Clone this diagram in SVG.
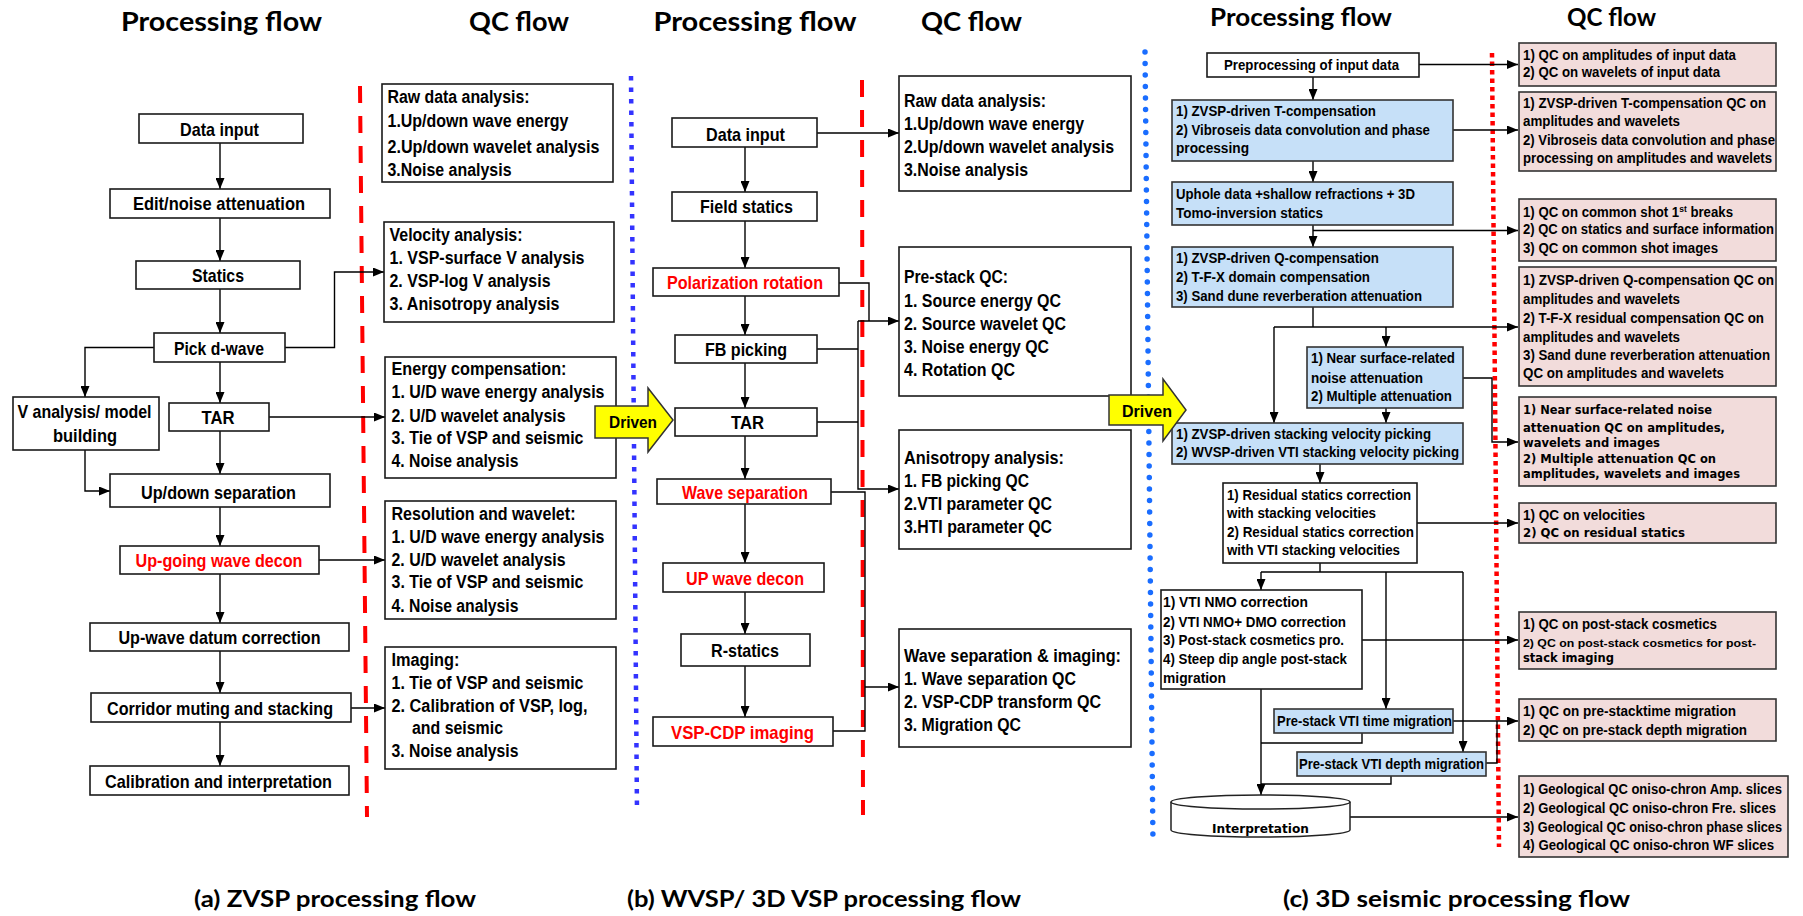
<svg xmlns="http://www.w3.org/2000/svg" width="1803" height="916" viewBox="0 0 1803 916">
<style>
text{font-family:"Liberation Sans",Arial,sans-serif;font-weight:bold;fill:#000}
.ttl{font-family:Lato,"Open Sans",sans-serif;font-size:27px;font-weight:bold;text-anchor:middle}
.ttc{font-family:Lato,"Open Sans",sans-serif;font-size:24px;font-weight:bold;text-anchor:middle}
.cap{font-family:Lato,"Open Sans",sans-serif;font-size:23px;font-weight:bold;text-anchor:middle}
.p{font-size:19px;text-anchor:middle}
.q{font-size:18px}
.c{font-size:14px}
.v{font-family:"DejaVu Sans",Verdana,sans-serif;font-size:13px}
.red{fill:#ff0000}
.bx{fill:#fff;stroke:#1a1a1a;stroke-width:1.6}
.bl{fill:#c6e0f8;stroke:#333;stroke-width:1.6}
.pk{fill:#f2dcdb;stroke:#333;stroke-width:1.6}
.ln{fill:none;stroke:#000;stroke-width:1.4}
.ar{marker-end:url(#ah)}
.rdash{stroke:#ff0000;stroke-width:4;stroke-dasharray:17 13;fill:none}
.bsq{stroke:#3333ff;stroke-width:4.5;stroke-dasharray:4.5 7;fill:none}
.bdot{stroke:#1a6dff;stroke-width:5.5;stroke-dasharray:0 11.5;stroke-linecap:round;fill:none}
.rdot{stroke:#ff0000;stroke-width:4.5;stroke-dasharray:4.5 4;fill:none}
.drv{fill:#ffff00;stroke:#333;stroke-width:1.5}
</style>
<defs>
<marker id="ah" markerUnits="userSpaceOnUse" markerWidth="11" markerHeight="9" refX="11" refY="4.5" orient="auto">
<path d="M0,0 L11,4.5 L0,9 z" fill="#000"/>
</marker>
</defs>
<rect width="1803" height="916" fill="#fff"/>

<!-- separators -->
<g id="separators">
<path class="rdash" d="M360,86 L367,817"/>
<path class="bsq" d="M631,76 L637,812"/>
<path class="rdash" d="M862,80 L863,815"/>
<path class="bdot" d="M1145,52 L1153,845"/>
<path class="rdot" d="M1492,53 L1499,847"/>
</g>

<!-- titles -->
<g id="titles">
<text class="ttl" x="221.5" y="31" textLength="201" lengthAdjust="spacingAndGlyphs">Processing flow</text>
<text class="ttl" x="519" y="31" textLength="100" lengthAdjust="spacingAndGlyphs">QC flow</text>
<text class="ttl" x="755" y="31" textLength="203" lengthAdjust="spacingAndGlyphs">Processing flow</text>
<text class="ttl" x="971.5" y="31" textLength="101" lengthAdjust="spacingAndGlyphs">QC flow</text>
<text class="ttc" x="1301" y="26" textLength="182" lengthAdjust="spacingAndGlyphs">Processing flow</text>
<text class="ttc" x="1611.5" y="26" textLength="89" lengthAdjust="spacingAndGlyphs">QC flow</text>
<text class="cap" x="335" y="907" textLength="282" lengthAdjust="spacingAndGlyphs">(a) ZVSP processing flow</text>
<text class="cap" x="824" y="907" textLength="394" lengthAdjust="spacingAndGlyphs">(b) WVSP/ 3D VSP processing flow</text>
<text class="cap" x="1456.5" y="907" textLength="347" lengthAdjust="spacingAndGlyphs">(c) 3D seismic processing flow</text>
</g>

<!-- connectors -->
<g id="connectors">
<!-- panel a -->
<path class="ln ar" d="M220,143 V189"/>
<path class="ln ar" d="M220,218 V261"/>
<path class="ln ar" d="M220,289 V333"/>
<path class="ln ar" d="M220,362 V403"/>
<path class="ln ar" d="M154,347.5 H85 V397"/>
<path class="ln ar" d="M220,431 V474"/>
<path class="ln ar" d="M85,450 V491 H110"/>
<path class="ln ar" d="M220,507 V546"/>
<path class="ln ar" d="M220,574 V623"/>
<path class="ln ar" d="M220,651 V693"/>
<path class="ln ar" d="M220,722 V766"/>
<path class="ln ar" d="M285,347.5 H334.5 V272 H384"/>
<path class="ln ar" d="M269,417 H385"/>
<path class="ln ar" d="M319,560 H385"/>
<path class="ln ar" d="M351,708 H385"/>
<!-- panel b -->
<path class="ln ar" d="M745,147 V192"/>
<path class="ln ar" d="M745,221 V268"/>
<path class="ln ar" d="M745,296 V335"/>
<path class="ln ar" d="M745,363 V408"/>
<path class="ln ar" d="M745,436 V479"/>
<path class="ln ar" d="M745,504 V563"/>
<path class="ln ar" d="M745,592 V634"/>
<path class="ln ar" d="M745,666 V717"/>
<path class="ln ar" d="M817,133 H899"/>
<path class="ln" d="M839,283 H869 V321"/>
<path class="ln ar" d="M858,321 H899"/>
<path class="ln ar" d="M858,321 V489 H899"/>
<path class="ln" d="M817,349 H858 M817,422 H858"/>
<path class="ln" d="M831,492 H865 V731 H833"/>
<path class="ln ar" d="M865,687 H899"/>
<!-- panel c -->
<path class="ln ar" d="M1313,77 V100"/>
<path class="ln ar" d="M1419,64.5 H1518"/>
<path class="ln ar" d="M1313,161 V182"/>
<path class="ln ar" d="M1453,130 H1518"/>
<path class="ln ar" d="M1313,225 V247"/>
<path class="ln ar" d="M1313,230.5 H1518"/>
<path class="ln" d="M1313,307 V327"/>
<path class="ln ar" d="M1274,327 H1518"/>
<path class="ln ar" d="M1274,327 V423"/>
<path class="ln ar" d="M1386,327 V347"/>
<path class="ln ar" d="M1386,408 V423"/>
<path class="ln ar" d="M1463,378 H1492 V442 H1518"/>
<path class="ln ar" d="M1320,464 V483"/>
<path class="ln ar" d="M1417,523 H1518"/>
<path class="ln" d="M1320,563 V572 M1261,572 H1463"/>
<path class="ln ar" d="M1261,572 V590"/>
<path class="ln ar" d="M1386,572 V709"/>
<path class="ln ar" d="M1463,572 V752"/>
<path class="ln ar" d="M1362,640 H1518"/>
<path class="ln ar" d="M1261,689 V795"/>
<path class="ln" d="M1362,733 V743 H1261"/>
<path class="ln" d="M1391,776 V784 H1261"/>
<path class="ln ar" d="M1453,721 H1518"/>
<path class="ln" d="M1486,763 H1497 V721"/>
<path class="ln ar" d="M1350,817 H1518"/>
</g>

<!-- Panel a processing -->
<g id="a-data-input"><rect class="bx" x="139" y="114" width="164" height="29"/><text class="p" x="219.5" y="136" textLength="79" lengthAdjust="spacingAndGlyphs">Data input</text></g>
<g id="a-edit"><rect class="bx" x="110" y="189" width="220" height="29"/><text class="p" x="219" y="210" textLength="172" lengthAdjust="spacingAndGlyphs">Edit/noise attenuation</text></g>
<g id="a-statics"><rect class="bx" x="136" y="261" width="164" height="28"/><text class="p" x="218" y="282" textLength="52" lengthAdjust="spacingAndGlyphs">Statics</text></g>
<g id="a-pick"><rect class="bx" x="154" y="333" width="131" height="29"/><text class="p" x="219" y="355" textLength="90" lengthAdjust="spacingAndGlyphs">Pick d-wave</text></g>
<g id="a-vanalysis"><rect class="bx" x="13" y="397" width="146" height="53"/><text class="p" x="84.5" y="418" textLength="134" lengthAdjust="spacingAndGlyphs">V analysis/ model</text><text class="p" x="85" y="442" textLength="64" lengthAdjust="spacingAndGlyphs">building</text></g>
<g id="a-tar"><rect class="bx" x="169" y="403" width="100" height="28"/><text class="p" x="218" y="424" textLength="33" lengthAdjust="spacingAndGlyphs">TAR</text></g>
<g id="a-updown"><rect class="bx" x="110" y="474" width="220" height="33"/><text class="p" x="218.5" y="499" textLength="155" lengthAdjust="spacingAndGlyphs">Up/down separation</text></g>
<g id="a-upgoing"><rect class="bx" x="120" y="546" width="199" height="28"/><text class="p red" x="219" y="567" textLength="167" lengthAdjust="spacingAndGlyphs">Up-going wave decon</text></g>
<g id="a-datum"><rect class="bx" x="90" y="623" width="259" height="28"/><text class="p" x="219.5" y="644" textLength="202" lengthAdjust="spacingAndGlyphs">Up-wave datum correction</text></g>
<g id="a-corridor"><rect class="bx" x="91" y="693" width="260" height="29"/><text class="p" x="220" y="715" textLength="226" lengthAdjust="spacingAndGlyphs">Corridor muting and stacking</text></g>
<g id="a-calib"><rect class="bx" x="90" y="766" width="259" height="29"/><text class="p" x="218.5" y="788" textLength="227" lengthAdjust="spacingAndGlyphs">Calibration and interpretation</text></g>

<!-- Panel a QC -->
<g id="a-qc-raw"><rect class="bx" x="382" y="84" width="231" height="98"/>
<text class="q" x="387.5" y="103" textLength="142" lengthAdjust="spacingAndGlyphs">Raw data analysis:</text>
<text class="q" x="387.5" y="127" textLength="181" lengthAdjust="spacingAndGlyphs">1.Up/down wave energy</text>
<text class="q" x="387.5" y="153" textLength="212" lengthAdjust="spacingAndGlyphs">2.Up/down wavelet analysis</text>
<text class="q" x="387.5" y="176" textLength="124" lengthAdjust="spacingAndGlyphs">3.Noise analysis</text></g>
<g id="a-qc-vel"><rect class="bx" x="384" y="222" width="230" height="100"/>
<text class="q" x="389.5" y="241" textLength="133" lengthAdjust="spacingAndGlyphs">Velocity analysis:</text>
<text class="q" x="389.5" y="264" textLength="195" lengthAdjust="spacingAndGlyphs">1. VSP-surface V analysis</text>
<text class="q" x="389.5" y="287" textLength="161" lengthAdjust="spacingAndGlyphs">2. VSP-log V analysis</text>
<text class="q" x="389.5" y="310" textLength="170" lengthAdjust="spacingAndGlyphs">3. Anisotropy analysis</text></g>
<g id="a-qc-energy"><rect class="bx" x="385" y="357" width="231" height="121"/>
<text class="q" x="391.5" y="375" textLength="175" lengthAdjust="spacingAndGlyphs">Energy compensation:</text>
<text class="q" x="391.5" y="398" textLength="213" lengthAdjust="spacingAndGlyphs">1. U/D wave energy analysis</text>
<text class="q" x="391.5" y="422" textLength="174" lengthAdjust="spacingAndGlyphs">2. U/D wavelet analysis</text>
<text class="q" x="391.5" y="444" textLength="192" lengthAdjust="spacingAndGlyphs">3. Tie of VSP and seismic</text>
<text class="q" x="391.5" y="467" textLength="127" lengthAdjust="spacingAndGlyphs">4. Noise analysis</text></g>
<g id="a-qc-res"><rect class="bx" x="385" y="501" width="231" height="118"/>
<text class="q" x="391.5" y="520" textLength="184" lengthAdjust="spacingAndGlyphs">Resolution and wavelet:</text>
<text class="q" x="391.5" y="543" textLength="213" lengthAdjust="spacingAndGlyphs">1. U/D wave energy analysis</text>
<text class="q" x="391.5" y="566" textLength="174" lengthAdjust="spacingAndGlyphs">2. U/D wavelet analysis</text>
<text class="q" x="391.5" y="588" textLength="192" lengthAdjust="spacingAndGlyphs">3. Tie of VSP and seismic</text>
<text class="q" x="391.5" y="612" textLength="127" lengthAdjust="spacingAndGlyphs">4. Noise analysis</text></g>
<g id="a-qc-img"><rect class="bx" x="385" y="647" width="231" height="122"/>
<text class="q" x="391.5" y="666" textLength="68" lengthAdjust="spacingAndGlyphs">Imaging:</text>
<text class="q" x="391.5" y="689" textLength="192" lengthAdjust="spacingAndGlyphs">1. Tie of VSP and seismic</text>
<text class="q" x="391.5" y="712" textLength="196" lengthAdjust="spacingAndGlyphs">2. Calibration of VSP, log,</text>
<text class="q" x="412" y="734" textLength="91" lengthAdjust="spacingAndGlyphs">and seismic</text>
<text class="q" x="391.5" y="757" textLength="127" lengthAdjust="spacingAndGlyphs">3. Noise analysis</text></g>

<!-- Panel b processing -->
<g id="b-data-input"><rect class="bx" x="672" y="118" width="145" height="29"/><text class="p" x="745.5" y="141" textLength="79" lengthAdjust="spacingAndGlyphs">Data input</text></g>
<g id="b-field"><rect class="bx" x="672" y="192" width="145" height="29"/><text class="p" x="746.5" y="213" textLength="93" lengthAdjust="spacingAndGlyphs">Field statics</text></g>
<g id="b-polar"><rect class="bx" x="653" y="268" width="186" height="28"/><text class="p red" x="745" y="289" textLength="156" lengthAdjust="spacingAndGlyphs">Polarization rotation</text></g>
<g id="b-fb"><rect class="bx" x="675" y="335" width="142" height="28"/><text class="p" x="746" y="356" textLength="82" lengthAdjust="spacingAndGlyphs">FB picking</text></g>
<g id="b-tar"><rect class="bx" x="675" y="408" width="142" height="28"/><text class="p" x="747.5" y="429" textLength="33" lengthAdjust="spacingAndGlyphs">TAR</text></g>
<g id="b-wavesep"><rect class="bx" x="657" y="479" width="174" height="25"/><text class="p red" x="745" y="499" textLength="126" lengthAdjust="spacingAndGlyphs">Wave separation</text></g>
<g id="b-updecon"><rect class="bx" x="663" y="563" width="161" height="29"/><text class="p red" x="745" y="585" textLength="118" lengthAdjust="spacingAndGlyphs">UP wave  decon</text></g>
<g id="b-rstatics"><rect class="bx" x="681" y="634" width="129" height="32"/><text class="p" x="745" y="657" textLength="68" lengthAdjust="spacingAndGlyphs">R-statics</text></g>
<g id="b-vspcdp"><rect class="bx" x="653" y="717" width="180" height="29"/><text class="p red" x="742.5" y="739" textLength="143" lengthAdjust="spacingAndGlyphs">VSP-CDP  imaging</text></g>

<!-- Panel b QC -->
<g id="b-qc-raw"><rect class="bx" x="899" y="76" width="232" height="115"/>
<text class="q" x="904" y="107" textLength="142" lengthAdjust="spacingAndGlyphs">Raw data analysis:</text>
<text class="q" x="904" y="130" textLength="180" lengthAdjust="spacingAndGlyphs">1.Up/down wave energy</text>
<text class="q" x="904" y="153" textLength="210" lengthAdjust="spacingAndGlyphs">2.Up/down wavelet analysis</text>
<text class="q" x="904" y="176" textLength="124" lengthAdjust="spacingAndGlyphs">3.Noise analysis</text></g>
<g id="b-qc-prestack"><rect class="bx" x="899" y="247" width="232" height="149"/>
<text class="q" x="904" y="283" textLength="104" lengthAdjust="spacingAndGlyphs">Pre-stack QC:</text>
<text class="q" x="904" y="307" textLength="157" lengthAdjust="spacingAndGlyphs">1. Source energy QC</text>
<text class="q" x="904" y="330" textLength="162" lengthAdjust="spacingAndGlyphs">2. Source wavelet QC</text>
<text class="q" x="904" y="353" textLength="145" lengthAdjust="spacingAndGlyphs">3. Noise energy QC</text>
<text class="q" x="904" y="376" textLength="111" lengthAdjust="spacingAndGlyphs">4. Rotation QC</text></g>
<g id="b-qc-aniso"><rect class="bx" x="899" y="430" width="232" height="119"/>
<text class="q" x="904" y="464" textLength="160" lengthAdjust="spacingAndGlyphs">Anisotropy analysis:</text>
<text class="q" x="904" y="487" textLength="125" lengthAdjust="spacingAndGlyphs">1. FB picking QC</text>
<text class="q" x="904" y="510" textLength="148" lengthAdjust="spacingAndGlyphs">2.VTI parameter QC</text>
<text class="q" x="904" y="533" textLength="148" lengthAdjust="spacingAndGlyphs">3.HTI parameter QC</text></g>
<g id="b-qc-wavesep"><rect class="bx" x="899" y="629" width="232" height="118"/>
<text class="q" x="904" y="662" textLength="217" lengthAdjust="spacingAndGlyphs">Wave separation &amp; imaging:</text>
<text class="q" x="904" y="685" textLength="172" lengthAdjust="spacingAndGlyphs">1. Wave separation QC</text>
<text class="q" x="904" y="708" textLength="197" lengthAdjust="spacingAndGlyphs">2. VSP-CDP transform QC</text>
<text class="q" x="904" y="731" textLength="117" lengthAdjust="spacingAndGlyphs">3. Migration QC</text></g>

<!-- Panel c processing -->
<g id="c-pre"><rect class="bx" x="1207" y="53" width="212" height="24"/><text class="c" x="1224" y="70" textLength="175" lengthAdjust="spacingAndGlyphs">Preprocessing of input data</text></g>
<g id="c-tcomp"><rect class="bl" x="1172" y="100" width="281" height="61"/>
<text class="c" x="1176" y="116" textLength="200" lengthAdjust="spacingAndGlyphs">1) ZVSP-driven T-compensation</text>
<text class="c" x="1176" y="135" textLength="254" lengthAdjust="spacingAndGlyphs">2) Vibroseis data convolution and phase</text>
<text class="c" x="1176" y="153" textLength="73" lengthAdjust="spacingAndGlyphs">processing</text></g>
<g id="c-uphole"><rect class="bl" x="1172" y="182" width="281" height="43"/>
<text class="c" x="1176" y="199" textLength="239" lengthAdjust="spacingAndGlyphs">Uphole data +shallow refractions + 3D</text>
<text class="c" x="1176" y="218" textLength="147" lengthAdjust="spacingAndGlyphs">Tomo-inversion statics</text></g>
<g id="c-qcomp"><rect class="bl" x="1172" y="247" width="281" height="60"/>
<text class="c" x="1176" y="263" textLength="203" lengthAdjust="spacingAndGlyphs">1) ZVSP-driven Q-compensation</text>
<text class="c" x="1176" y="282" textLength="194" lengthAdjust="spacingAndGlyphs">2) T-F-X domain compensation</text>
<text class="c" x="1176" y="301" textLength="246" lengthAdjust="spacingAndGlyphs">3) Sand dune reverberation attenuation</text></g>
<g id="c-near"><rect class="bl" x="1307" y="347" width="156" height="61"/>
<text class="c" x="1311" y="363" textLength="144" lengthAdjust="spacingAndGlyphs">1) Near surface-related</text>
<text class="c" x="1311" y="383" textLength="112" lengthAdjust="spacingAndGlyphs">noise attenuation</text>
<text class="c" x="1311" y="401" textLength="141" lengthAdjust="spacingAndGlyphs">2) Multiple attenuation</text></g>
<g id="c-vel"><rect class="bl" x="1172" y="423" width="291" height="41"/>
<text class="c" x="1176" y="439" textLength="255" lengthAdjust="spacingAndGlyphs">1) ZVSP-driven stacking velocity picking</text>
<text class="c" x="1176" y="457" textLength="283" lengthAdjust="spacingAndGlyphs">2) WVSP-driven VTI stacking velocity picking</text></g>
<g id="c-resid"><rect class="bx" x="1223" y="483" width="194" height="80"/>
<text class="c" x="1227" y="500" textLength="184" lengthAdjust="spacingAndGlyphs">1) Residual statics correction</text>
<text class="c" x="1227" y="518" textLength="149" lengthAdjust="spacingAndGlyphs">with stacking velocities</text>
<text class="c" x="1227" y="537" textLength="187" lengthAdjust="spacingAndGlyphs">2)  Residual statics correction</text>
<text class="c" x="1227" y="555" textLength="173" lengthAdjust="spacingAndGlyphs">with VTI stacking velocities</text></g>
<g id="c-nmo"><rect class="bx" x="1161" y="590" width="201" height="99"/>
<text class="c" x="1163" y="607" textLength="145" lengthAdjust="spacingAndGlyphs">1)  VTI NMO correction</text>
<text class="c" x="1163" y="627" textLength="183" lengthAdjust="spacingAndGlyphs">2) VTI NMO+ DMO correction</text>
<text class="c" x="1163" y="645" textLength="181" lengthAdjust="spacingAndGlyphs">3) Post-stack cosmetics pro.</text>
<text class="c" x="1163" y="664" textLength="184" lengthAdjust="spacingAndGlyphs">4) Steep dip angle post-stack</text>
<text class="c" x="1163" y="683" textLength="63" lengthAdjust="spacingAndGlyphs">migration</text></g>
<g id="c-pstm"><rect class="bl" x="1274" y="709" width="179" height="24"/><text class="c" x="1277" y="726" textLength="175" lengthAdjust="spacingAndGlyphs">Pre-stack VTI time migration</text></g>
<g id="c-psdm"><rect class="bl" x="1297" y="752" width="189" height="24"/><text class="c" x="1299" y="769" textLength="185" lengthAdjust="spacingAndGlyphs">Pre-stack VTI depth migration</text></g>
<g id="c-interp">
<path d="M1171,802 V830 A89.5,7 0 0 0 1350,830 V802" fill="#fff" stroke="#222" stroke-width="1.5"/>
<ellipse cx="1260.5" cy="802" rx="89.5" ry="7" fill="#fff" stroke="#222" stroke-width="1.5"/>
<text class="v" x="1212" y="833" textLength="97" lengthAdjust="spacingAndGlyphs">Interpretation</text>
</g>

<!-- Panel c QC -->
<g id="c-qc1"><rect class="pk" x="1519" y="43" width="257" height="43"/>
<text class="c" x="1523" y="60" textLength="213" lengthAdjust="spacingAndGlyphs">1) QC on amplitudes of input data</text>
<text class="c" x="1523" y="77" textLength="197" lengthAdjust="spacingAndGlyphs">2) QC on wavelets of input data</text></g>
<g id="c-qc2"><rect class="pk" x="1519" y="92" width="257" height="79"/>
<text class="c" x="1523" y="108" textLength="243" lengthAdjust="spacingAndGlyphs">1) ZVSP-driven T-compensation QC on</text>
<text class="c" x="1523" y="126" textLength="157" lengthAdjust="spacingAndGlyphs">amplitudes and wavelets</text>
<text class="c" x="1523" y="145" textLength="252" lengthAdjust="spacingAndGlyphs">2) Vibroseis data convolution and phase</text>
<text class="c" x="1523" y="163" textLength="249" lengthAdjust="spacingAndGlyphs">processing on amplitudes and wavelets</text></g>
<g id="c-qc3"><rect class="pk" x="1519" y="199" width="257" height="62"/>
<text class="c" x="1523" y="217" textLength="210" lengthAdjust="spacingAndGlyphs">1) QC on common shot 1<tspan baseline-shift="5" font-size="9">st</tspan> breaks</text>
<text class="c" x="1523" y="234" textLength="251" lengthAdjust="spacingAndGlyphs">2) QC on statics and surface information</text>
<text class="c" x="1523" y="253" textLength="195" lengthAdjust="spacingAndGlyphs">3) QC on common shot images</text></g>
<g id="c-qc4"><rect class="pk" x="1519" y="267" width="257" height="119"/>
<text class="c" x="1523" y="285" textLength="251" lengthAdjust="spacingAndGlyphs">1) ZVSP-driven Q-compensation QC on</text>
<text class="c" x="1523" y="304" textLength="157" lengthAdjust="spacingAndGlyphs">amplitudes and wavelets</text>
<text class="c" x="1523" y="323" textLength="241" lengthAdjust="spacingAndGlyphs">2) T-F-X residual compensation QC on</text>
<text class="c" x="1523" y="342" textLength="157" lengthAdjust="spacingAndGlyphs">amplitudes and wavelets</text>
<text class="c" x="1523" y="360" textLength="247" lengthAdjust="spacingAndGlyphs">3) Sand dune reverberation attenuation</text>
<text class="c" x="1523" y="378" textLength="201" lengthAdjust="spacingAndGlyphs">QC on amplitudes and wavelets</text></g>
<g id="c-qc5"><rect class="pk" x="1519" y="397" width="257" height="89"/>
<text class="v" x="1523" y="414" textLength="189" lengthAdjust="spacingAndGlyphs">1) Near surface-related noise</text>
<text class="v" x="1523" y="432" textLength="202" lengthAdjust="spacingAndGlyphs">attenuation QC on amplitudes,</text>
<text class="v" x="1523" y="447" textLength="137" lengthAdjust="spacingAndGlyphs">wavelets and images</text>
<text class="v" x="1523" y="463" textLength="193" lengthAdjust="spacingAndGlyphs">2) Multiple attenuation QC on</text>
<text class="v" x="1523" y="478" textLength="217" lengthAdjust="spacingAndGlyphs">amplitudes, wavelets and images</text></g>
<g id="c-qc6"><rect class="pk" x="1519" y="503" width="257" height="40"/>
<text class="c" x="1523" y="520" textLength="122" lengthAdjust="spacingAndGlyphs">1) QC on velocities</text>
<text class="v" x="1523" y="537" textLength="162" lengthAdjust="spacingAndGlyphs">2) QC on residual statics</text></g>
<g id="c-qc7"><rect class="pk" x="1519" y="612" width="257" height="57"/>
<text class="c" x="1523" y="629" textLength="194" lengthAdjust="spacingAndGlyphs">1) QC on post-stack cosmetics</text>
<text x="1523" y="647" font-size="11.5" textLength="233" lengthAdjust="spacingAndGlyphs">2) QC on post-stack  cosmetics   for  post-</text>
<text class="v" x="1523" y="662" textLength="91" lengthAdjust="spacingAndGlyphs">stack imaging</text></g>
<g id="c-qc8"><rect class="pk" x="1519" y="699" width="257" height="42"/>
<text class="c" x="1523" y="716" textLength="213" lengthAdjust="spacingAndGlyphs">1) QC on pre-stacktime migration</text>
<text class="c" x="1523" y="735" textLength="224" lengthAdjust="spacingAndGlyphs">2) QC on pre-stack depth migration</text></g>
<g id="c-qc9"><rect class="pk" x="1519" y="776" width="269" height="81"/>
<text class="c" x="1523" y="794" textLength="259" lengthAdjust="spacingAndGlyphs">1) Geological QC oniso-chron Amp. slices</text>
<text class="c" x="1523" y="813" textLength="253" lengthAdjust="spacingAndGlyphs">2) Geological QC oniso-chron Fre. slices</text>
<text class="c" x="1523" y="832" textLength="259" lengthAdjust="spacingAndGlyphs">3) Geological QC oniso-chron phase slices</text>
<text class="c" x="1523" y="850" textLength="251" lengthAdjust="spacingAndGlyphs">4) Geological QC oniso-chron WF slices</text></g>

<!-- Driven arrows (drawn on top) -->
<g id="driven1">
<polygon class="drv" points="595,406 648,406 648,388 673,420 648,452 648,438 595,438"/>
<text x="633" y="428" font-size="17" text-anchor="middle" textLength="48" lengthAdjust="spacingAndGlyphs">Driven</text>
</g>
<g id="driven2">
<polygon class="drv" points="1109,395 1163,395 1163,379 1186,410 1163,441 1163,425 1109,425"/>
<text x="1147" y="417" font-size="17" text-anchor="middle" textLength="50" lengthAdjust="spacingAndGlyphs">Driven</text>
</g>
</svg>
